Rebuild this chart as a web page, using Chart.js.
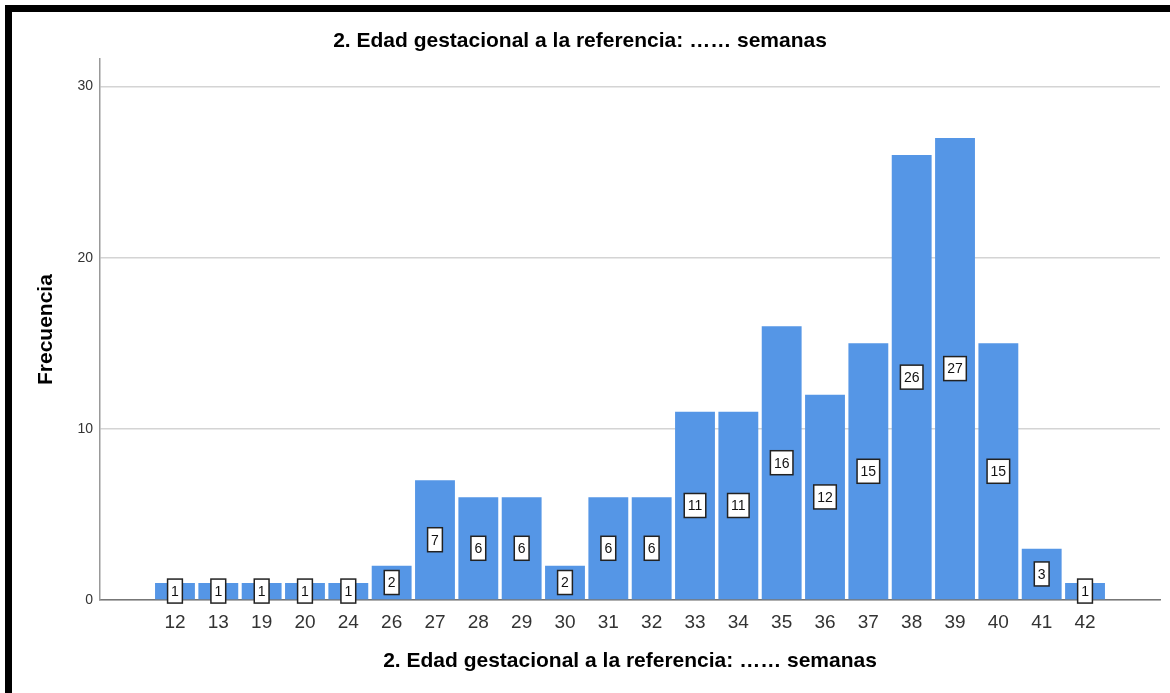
<!DOCTYPE html>
<html>
<head>
<meta charset="utf-8">
<script src="https://cdn.jsdelivr.net/npm/chart.js@4.4.1/dist/chart.umd.min.js"></script>
<style>
    html, body { margin: 0; padding: 0; background: #fff; }
    #wrap { position: relative; width: 1170px; height: 693px; overflow: hidden; }
    #chart { position: absolute; left: 0; top: 0; }
    #frame {
        position: absolute; left: 5px; top: 5px; width: 1165px; height: 688px;
        border-left: 7px solid #000; border-top: 7px solid #000;
        box-sizing: border-box; pointer-events: none;
    }
</style>
</head>
<body>
<div id="wrap">
    <canvas id="chart" width="1170" height="693"></canvas>
    <div id="frame"></div>
</div>
<script>
// semanas de gestación y frecuencia
const weeks = ['12', '13', '19', '20', '24', '26', '27', '28', '29', '30', '31',
               '32', '33', '34', '35', '36', '37', '38', '39', '40', '41', '42'];
const counts = [1, 1, 1, 1, 1, 2, 7, 6, 6, 2, 6, 6, 11, 11, 16, 12, 15, 26, 27, 15, 3, 1];
const yTicks = [0, 10, 20, 30];

const chartTitle = '2. Edad gestacional a la referencia: \u2026\u2026 semanas';
const yTitle = 'Frecuencia';

// etiquetas dentro de las barras
const valueBoxes = {
    id: 'valueBoxes',
    afterDatasetsDraw(chart) {
        const ctx = chart.ctx;
        const meta = chart.getDatasetMeta(0);
        ctx.save();
        ctx.font = '14px "Liberation Sans", Arial, sans-serif';
        ctx.textAlign = 'center';
        ctx.textBaseline = 'middle';
        meta.data.forEach((bar, i) => {
            const txt = String(counts[i]);
            const cy = (bar.y + bar.base) / 2;
            const w = ctx.measureText(txt).width + 7;
            const h = 24;
            ctx.fillStyle = '#fff';
            ctx.fillRect(bar.x - w / 2, cy - h / 2, w, h);
            ctx.lineWidth = 1.5;
            ctx.strokeStyle = '#222';
            ctx.strokeRect(bar.x - w / 2, cy - h / 2, w, h);
            ctx.fillStyle = '#111';
            ctx.fillText(txt, bar.x, cy + 1);
        });
        ctx.restore();
    }
};

new Chart(document.getElementById('chart'), {
    type: 'bar',
    data: {
        datasets: [{
            data: counts.map((v, i) => ({ x: i, y: v })),
            backgroundColor: '#5596e6',
            borderWidth: 0,
            barPercentage: 0.92,
            categoryPercentage: 1,
        }],
    },
    options: {
        responsive: false,
        animation: false,
        layout: { padding: { left: 0, top: 0, right: 10, bottom: 0 } },
        plugins: {
            legend: { display: false },
            tooltip: { enabled: false },
            title: {
                display: true,
                text: chartTitle,
                color: '#000',
                font: { family: '"Liberation Sans", Arial, sans-serif', size: 21, weight: 'bold' },
                padding: { top: 29, bottom: 5 },
            },
        },
        scales: {
            x: {
                type: 'linear',
                offset: false,
                min: -1.73,
                max: weeks.length - 1 + 1.73,
                afterBuildTicks(scale) {
                    scale.ticks = weeks.map((_, i) => ({ value: i }));
                },
                afterFit(scale) { scale.height = 93; },
                grid: { display: false, drawTicks: false, offset: false },
                border: { color: '#777', width: 1.5 },
                ticks: {
                    autoSkip: false,
                    maxRotation: 0,
                    padding: 11,
                    color: '#333',
                    font: { family: '"Liberation Sans", Arial, sans-serif', size: 19 },
                    callback: (v) => weeks[v],
                },
                title: {
                    display: true,
                    text: chartTitle,
                    color: '#000',
                    font: { family: '"Liberation Sans", Arial, sans-serif', size: 21, weight: 'bold' },
                    padding: { top: 0, bottom: 19 },
                },
            },
            y: {
                min: 0,
                max: 31.6,
                afterBuildTicks(scale) {
                    scale.ticks = yTicks.map(v => ({ value: v }));
                },
                afterFit(scale) { scale.width = 100; },
                grid: { color: '#d4d4d4', lineWidth: 1.5, drawTicks: false },
                border: { color: '#999', width: 1.5 },
                ticks: {
                    padding: 7,
                    color: '#333',
                    font: { family: '"Liberation Sans", Arial, sans-serif', size: 14 },
                },
                title: {
                    display: true,
                    text: yTitle,
                    color: '#000',
                    font: { family: '"Liberation Sans", Arial, sans-serif', size: 21, weight: 'bold' },
                    padding: { top: 34, bottom: 0 },
                },
            },
        },
    },
    plugins: [valueBoxes],
});
</script>
</body>
</html>
